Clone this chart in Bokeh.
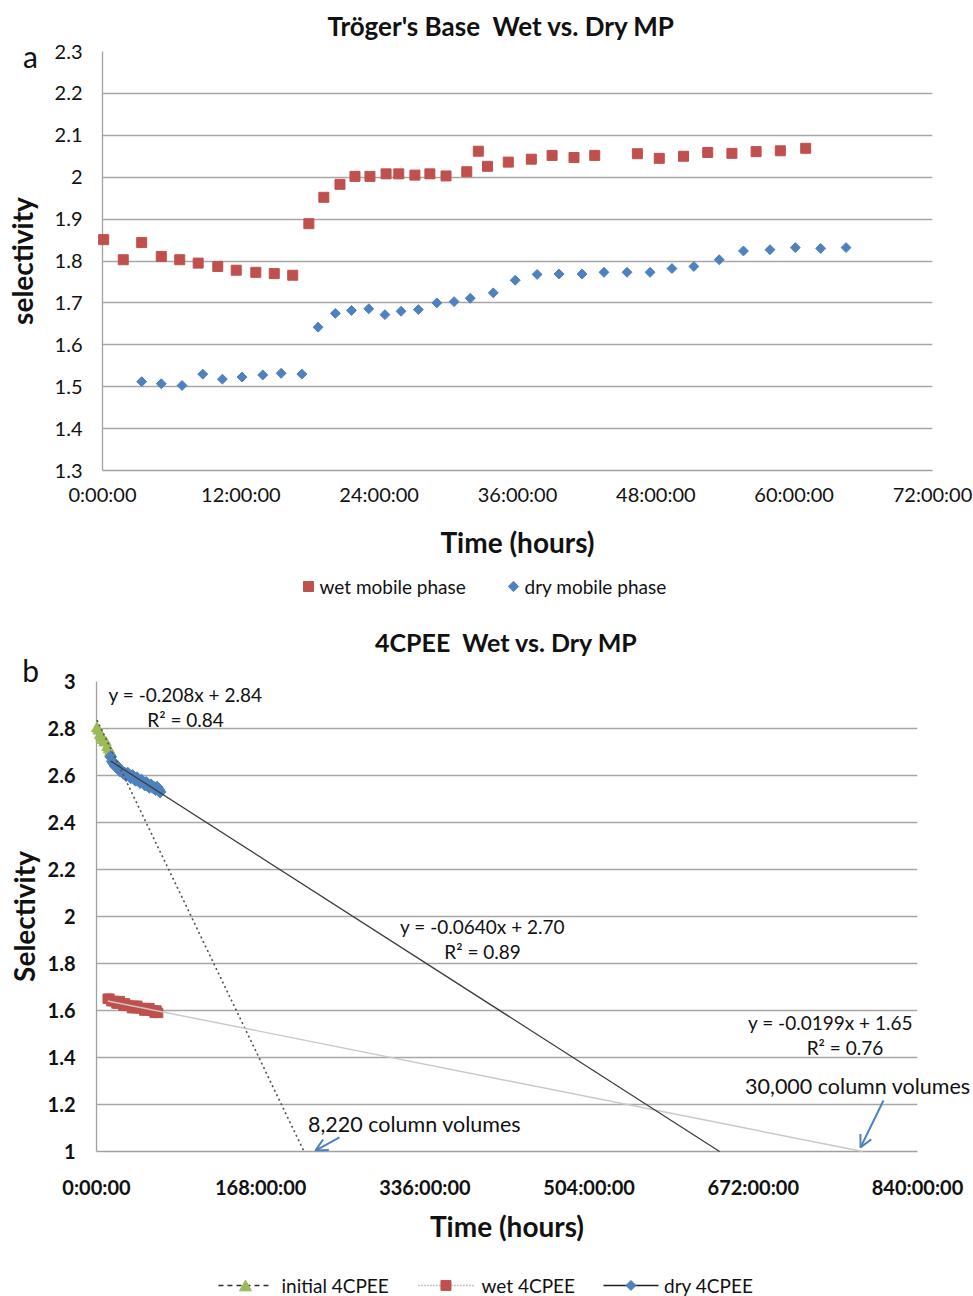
import math
from bokeh.plotting import figure
from bokeh.models import Range1d, FixedTicker, Arrow, OpenHead
from bokeh.core.properties import value
from bokeh.embed import file_html
from bokeh.resources import INLINE

# ---------------- data: chart a (Troger's base) ----------------
wet_a_hours = [0.1, 1.8, 3.4, 5.1, 6.7, 8.3, 10.0, 11.6, 13.3, 14.9,
               16.5, 17.9, 19.2, 20.6, 21.9, 23.2, 24.6, 25.7, 27.1, 28.4,
               29.8, 31.6, 32.6, 33.4, 35.2, 37.2, 39.0, 40.9, 42.7, 46.4,
               48.3, 50.4, 52.5, 54.6, 56.7, 58.8, 61.0]
wet_a_sel = [1.851, 1.803, 1.844, 1.811, 1.803, 1.795, 1.787, 1.778, 1.773, 1.770,
             1.766, 1.889, 1.952, 1.983, 2.002, 2.002, 2.008, 2.008, 2.005, 2.008,
             2.003, 2.013, 2.062, 2.026, 2.036, 2.043, 2.052, 2.047, 2.052, 2.056,
             2.045, 2.050, 2.059, 2.057, 2.061, 2.063, 2.069]
dry_a_hours = [3.4, 5.1, 6.9, 8.7, 10.4, 12.1, 13.9, 15.5, 17.3, 18.7,
               20.2, 21.6, 23.1, 24.5, 25.9, 27.4, 29.0, 30.5, 31.9, 33.9,
               35.8, 37.7, 39.6, 41.6, 43.5, 45.5, 47.5, 49.4, 51.3, 53.5,
               55.6, 57.9, 60.1, 62.3, 64.5]
dry_a_sel = [1.512, 1.507, 1.503, 1.530, 1.518, 1.523, 1.528, 1.532, 1.530, 1.642,
             1.675, 1.682, 1.686, 1.672, 1.680, 1.684, 1.700, 1.703, 1.711, 1.724,
             1.754, 1.768, 1.769, 1.769, 1.773, 1.773, 1.773, 1.782, 1.787, 1.803,
             1.824, 1.827, 1.832, 1.830, 1.832]
a_xticks = [0, 12, 24, 36, 48, 60, 72]
a_xtick_labels = ["0:00:00", "12:00:00", "24:00:00", "36:00:00", "48:00:00", "60:00:00", "72:00:00"]
a_yticks = [1.3, 1.4, 1.5, 1.6, 1.7, 1.8, 1.9, 2.0, 2.1, 2.2, 2.3]
a_ytick_labels = ["1.3", "1.4", "1.5", "1.6", "1.7", "1.8", "1.9", "2", "2.1", "2.2", "2.3"]
a_series_names = ["wet mobile phase", "dry mobile phase"]
a_title = "Tr\u00f6ger's Base \u00a0Wet vs. Dry MP"

# ---------------- data: chart b (4CPEE) ----------------
init_b_hours = [0.5, 2.0, 3.5, 5.0, 6.5, 8.0, 9.5, 11.0, 12.5, 14.0]
init_b_sel = [2.80, 2.79, 2.77, 2.76, 2.75, 2.74, 2.74, 2.72, 2.71, 2.70]
wet_b_hours = [11.5, 13.2, 15.0, 16.9, 18.6, 20.4, 22.1, 23.9, 25.8, 27.5,
               29.3, 31.0, 32.8, 34.6, 36.3, 38.1, 40.0, 41.7, 43.5, 45.2,
               47.0, 48.9, 50.6, 52.4, 54.1, 55.9, 57.8, 59.5, 61.3, 63.0]
wet_b_sel = [1.65, 1.65, 1.64, 1.64, 1.64, 1.63, 1.63, 1.64, 1.63, 1.62,
             1.63, 1.62, 1.62, 1.62, 1.61, 1.62, 1.61, 1.62, 1.61, 1.61,
             1.61, 1.60, 1.61, 1.60, 1.61, 1.60, 1.60, 1.59, 1.60, 1.59]
dry_b_hours = [14.5, 16.2, 17.8, 19.3, 21.0, 22.4, 24.1, 25.6, 27.2, 28.9,
               30.3, 31.9, 33.6, 35.0, 36.8, 38.2, 39.9, 41.5, 43.0, 44.7,
               46.1, 47.8, 49.4, 50.9, 52.6, 54.0, 55.7, 57.3, 58.8, 60.5,
               62.0, 63.6, 65.1]
dry_b_sel = [2.68, 2.66, 2.65, 2.64, 2.64, 2.63, 2.62, 2.62, 2.61, 2.61,
             2.60, 2.61, 2.60, 2.59, 2.60, 2.59, 2.58, 2.59, 2.58, 2.57,
             2.58, 2.57, 2.56, 2.57, 2.56, 2.55, 2.56, 2.55, 2.55, 2.54,
             2.55, 2.54, 2.53]
# linear trends (x in days), order: initial, wet, dry
trend_slopes = [-0.208, -0.0199, -0.0640]
trend_intercepts = [2.84, 1.65, 2.70]
trend_eq_labels = ["y = -0.208x + 2.84", "y = -0.0199x + 1.65", "y = -0.0640x + 2.70"]
trend_r2_labels = ["R\u00b2 = 0.84", "R\u00b2 = 0.76", "R\u00b2 = 0.89"]
b_series_names = ["initial 4CPEE", "wet 4CPEE", "dry 4CPEE"]
b_xticks = [0, 168, 336, 504, 672, 840]
b_xtick_labels = ["0:00:00", "168:00:00", "336:00:00", "504:00:00", "672:00:00", "840:00:00"]
b_yticks = [1.0, 1.2, 1.4, 1.6, 1.8, 2.0, 2.2, 2.4, 2.6, 2.8, 3.0]
b_ytick_labels = ["1", "1.2", "1.4", "1.6", "1.8", "2", "2.2", "2.4", "2.6", "2.8", "3"]
column_volume_labels = ["8,220 column volumes", "30,000 column volumes"]
b_title = "4CPEE \u00a0Wet vs. Dry MP"

# ---------------- styles ----------------
FONT = "Lato"
RED = "#C0504D"
BLUE = "#4F81BD"
GREEN = "#9BBB59"
GRID = "#a6a6a6"
AXIS = "#a0a0a0"
TXT = "#111111"


def style_axes(p, bold_ticks, xstand, ystand, xlab_stand, ylab_stand):
    for ax in (p.xaxis[0], p.yaxis[0]):
        ax.major_tick_line_color = None
        ax.minor_tick_line_color = None
        ax.major_tick_out = 0
        ax.major_tick_in = 0
        ax.minor_tick_out = 0
        ax.minor_tick_in = 0
        ax.axis_line_color = AXIS
        ax.axis_line_width = 1.3
        ax.major_label_text_font = FONT
        ax.major_label_text_font_size = "20px"
        ax.major_label_text_color = TXT
        ax.major_label_text_font_style = "bold" if bold_ticks else "normal"
        ax.axis_label_text_font = FONT
        ax.axis_label_text_font_style = "bold"
        ax.axis_label_text_color = TXT
        ax.axis_label_text_font_size = "28px"
    p.xaxis[0].major_label_standoff = xstand
    p.yaxis[0].major_label_standoff = ystand
    p.xaxis[0].axis_label_standoff = xlab_stand
    p.yaxis[0].axis_label_standoff = ylab_stand
    p.xgrid.visible = False
    p.ygrid.grid_line_color = GRID
    p.ygrid.grid_line_width = 1.3
    p.outline_line_color = None


def free_text(p, x, y, text, size, bold=False, align="center"):
    # overlay level: drawn outside the plot frame too
    p.text(x=[x], y=[y], text=[text], text_font=value(FONT), text_font_size=value(size),
           text_font_style="bold" if bold else "normal", text_align=align,
           text_baseline="middle", text_color=TXT, level="overlay")


def swatch(p, cx, cy, shape, half_px, px_per_x, px_per_y, color):
    # legend swatch drawn as a patch (markers outside the frame are culled)
    dx = half_px / px_per_x
    dy = half_px / px_per_y
    if shape == "square":
        xs = [cx - dx, cx + dx, cx + dx, cx - dx]
        ys = [cy - dy, cy - dy, cy + dy, cy + dy]
    elif shape == "diamond":
        xs = [cx - dx, cx, cx + dx, cx]
        ys = [cy, cy - dy, cy, cy + dy]
    else:  # triangle
        xs = [cx - dx, cx + dx, cx]
        ys = [cy - dy * 0.9, cy - dy * 0.9, cy + dy * 0.9]
    p.patch(xs, ys, fill_color=color, line_color=color, level="overlay")


# ================= chart a =================
p1 = figure(width=973, height=615, x_range=Range1d(0, 72), y_range=Range1d(1.3, 2.3),
            output_backend="svg", toolbar_location=None, title=None,
            min_border_left=102, min_border_right=41, min_border_top=51, min_border_bottom=145)
p1.xaxis.ticker = FixedTicker(ticks=a_xticks)
p1.yaxis.ticker = FixedTicker(ticks=a_yticks)
p1.xaxis.major_label_overrides = dict(zip(a_xticks, a_xtick_labels))
p1.yaxis.major_label_overrides = dict(zip(a_yticks, a_ytick_labels))
p1.xaxis.axis_label = "Time (hours)"
p1.yaxis.axis_label = "selectivity"
style_axes(p1, bold_ticks=False, xstand=11, ystand=20, xlab_stand=16, ylab_stand=13)

a_markers = [dict(marker="square", size=10, fill_color=RED, line_color=RED),
             dict(marker="square", angle=math.pi / 4, size=7, fill_color=BLUE, line_color=BLUE)]
for (hx, sy), ms in zip([(wet_a_hours, wet_a_sel), (dry_a_hours, dry_a_sel)], a_markers):
    p1.scatter(hx, sy, level="overlay", **ms)

free_text(p1, 34.6, 2.362, a_title, "26px", bold=True)
free_text(p1, -6.25, 2.29, "a", "30px")

# legend row below the axis (positions in data units of this chart)
A_PPX = 830 / 72.0
A_PPY = 419 / 1.0
a_leg_y = 1.0232
a_leg_marker_x = [17.87, 35.65]
a_leg_text_x = [18.82, 36.61]
a_leg_shapes = [("square", 5.0, RED), ("diamond", 5.2, BLUE)]
for mx, tx, (shape, hp, col), name in zip(a_leg_marker_x, a_leg_text_x, a_leg_shapes, a_series_names):
    swatch(p1, mx, a_leg_y, shape, hp, A_PPX, A_PPY, col)
    free_text(p1, tx, a_leg_y, name, "19px", align="left")

# ================= chart b =================
p2 = figure(width=973, height=681, x_range=Range1d(0, 840), y_range=Range1d(1, 3),
            output_backend="svg", toolbar_location=None, title=None,
            min_border_left=96, min_border_right=56, min_border_top=66, min_border_bottom=145)
p2.xaxis.ticker = FixedTicker(ticks=b_xticks)
p2.yaxis.ticker = FixedTicker(ticks=b_yticks)
p2.xaxis.major_label_overrides = dict(zip(b_xticks, b_xtick_labels))
p2.yaxis.major_label_overrides = dict(zip(b_yticks, b_ytick_labels))
p2.xaxis.axis_label = "Time (hours)"
p2.yaxis.axis_label = "Selectivity"
style_axes(p2, bold_ticks=True, xstand=23, ystand=21, xlab_stand=7, ylab_stand=4)

series_b = [(init_b_hours, init_b_sel), (wet_b_hours, wet_b_sel), (dry_b_hours, dry_b_sel)]
line_styles = [dict(line_color="#2e2e2e", line_dash="5 4", line_width=1.6),
               dict(line_color="#8c8c8c", line_dash="1 2", line_width=1.6),
               dict(line_color="#1e1e1e", line_dash="solid", line_width=1.6)]
marker_styles = [dict(marker="triangle", size=11, fill_color=GREEN, line_color=GREEN),
                 dict(marker="square", size=9.5, fill_color=RED, line_color=RED),
                 dict(marker="square", angle=math.pi / 4, size=8.5, fill_color=BLUE, line_color=BLUE)]
for (hx, sy), ls, ms in zip(series_b, line_styles, marker_styles):
    p2.line(hx, sy, **ls)
    p2.scatter(hx, sy, level="overlay", **ms)

# trend lines (forecast forward until selectivity = 1)
trend_styles = [dict(line_color="#505050", line_dash="2 3", line_width=1.6),
                dict(line_color="#c8c8c8", line_dash="solid", line_width=1.4),
                dict(line_color="#3c3c3c", line_dash="solid", line_width=1.3)]
for (hx, sy), m, b, ts in zip(series_b, trend_slopes, trend_intercepts, trend_styles):
    x0 = min(hx)
    x1 = (1.0 - b) / m * 24.0
    p2.line([x0, x1], [b + m * x0 / 24.0, b + m * x1 / 24.0], level="overlay", **ts)

eq_pos = [(91.1, 2.945, 2.838), (751.0, 1.549, 1.443), (395.0, 1.957, 1.851)]
r2_x = [91.1, 765.8, 395.0]
for (ex, ey, ry), rx, eq, r2 in zip(eq_pos, r2_x, trend_eq_labels, trend_r2_labels):
    free_text(p2, ex, ey, eq, "19px")
    free_text(p2, rx, ry, r2, "19px")

free_text(p2, 325.4, 1.119, column_volume_labels[0], "21.5px")
free_text(p2, 779.0, 1.277, column_volume_labels[1], "21.5px")
p2.add_layout(Arrow(end=OpenHead(size=12, line_color=BLUE, line_width=2),
                    x_start=248.6, y_start=1.060, x_end=224.0, y_end=1.004,
                    line_color=BLUE, line_width=2))
p2.add_layout(Arrow(end=OpenHead(size=12, line_color=BLUE, line_width=2),
                    x_start=805.2, y_start=1.217, x_end=781.7, y_end=1.017,
                    line_color=BLUE, line_width=2))

free_text(p2, 419.5, 3.170, b_title, "25px", bold=True)
free_text(p2, -67.5, 3.047, "b", "30px")

# legend row at the bottom (positions in data units of this chart)
B_PPX = 821 / 840.0
B_PPY = 470 / 2.0
b_leg_y = 0.43
b_leg_line_x = [(124.8, 180.1), (329.4, 385.7), (518.7, 575.0)]
b_leg_text_x = [189.3, 393.9, 580.7]
b_leg_shapes = [("triangle", 6.0, GREEN), ("square", 5.0, RED), ("diamond", 5.0, BLUE)]
for (lx0, lx1), tx, ls, (shape, hp, col), name in zip(b_leg_line_x, b_leg_text_x, line_styles,
                                                      b_leg_shapes, b_series_names):
    p2.line([lx0, lx1], [b_leg_y, b_leg_y], level="overlay", **ls)
    swatch(p2, (lx0 + lx1) / 2, b_leg_y, shape, hp, B_PPX, B_PPY, col)
    free_text(p2, tx, b_leg_y, name, "19px", align="left")

open("out.html", "w").write(file_html([p1, p2], INLINE))
